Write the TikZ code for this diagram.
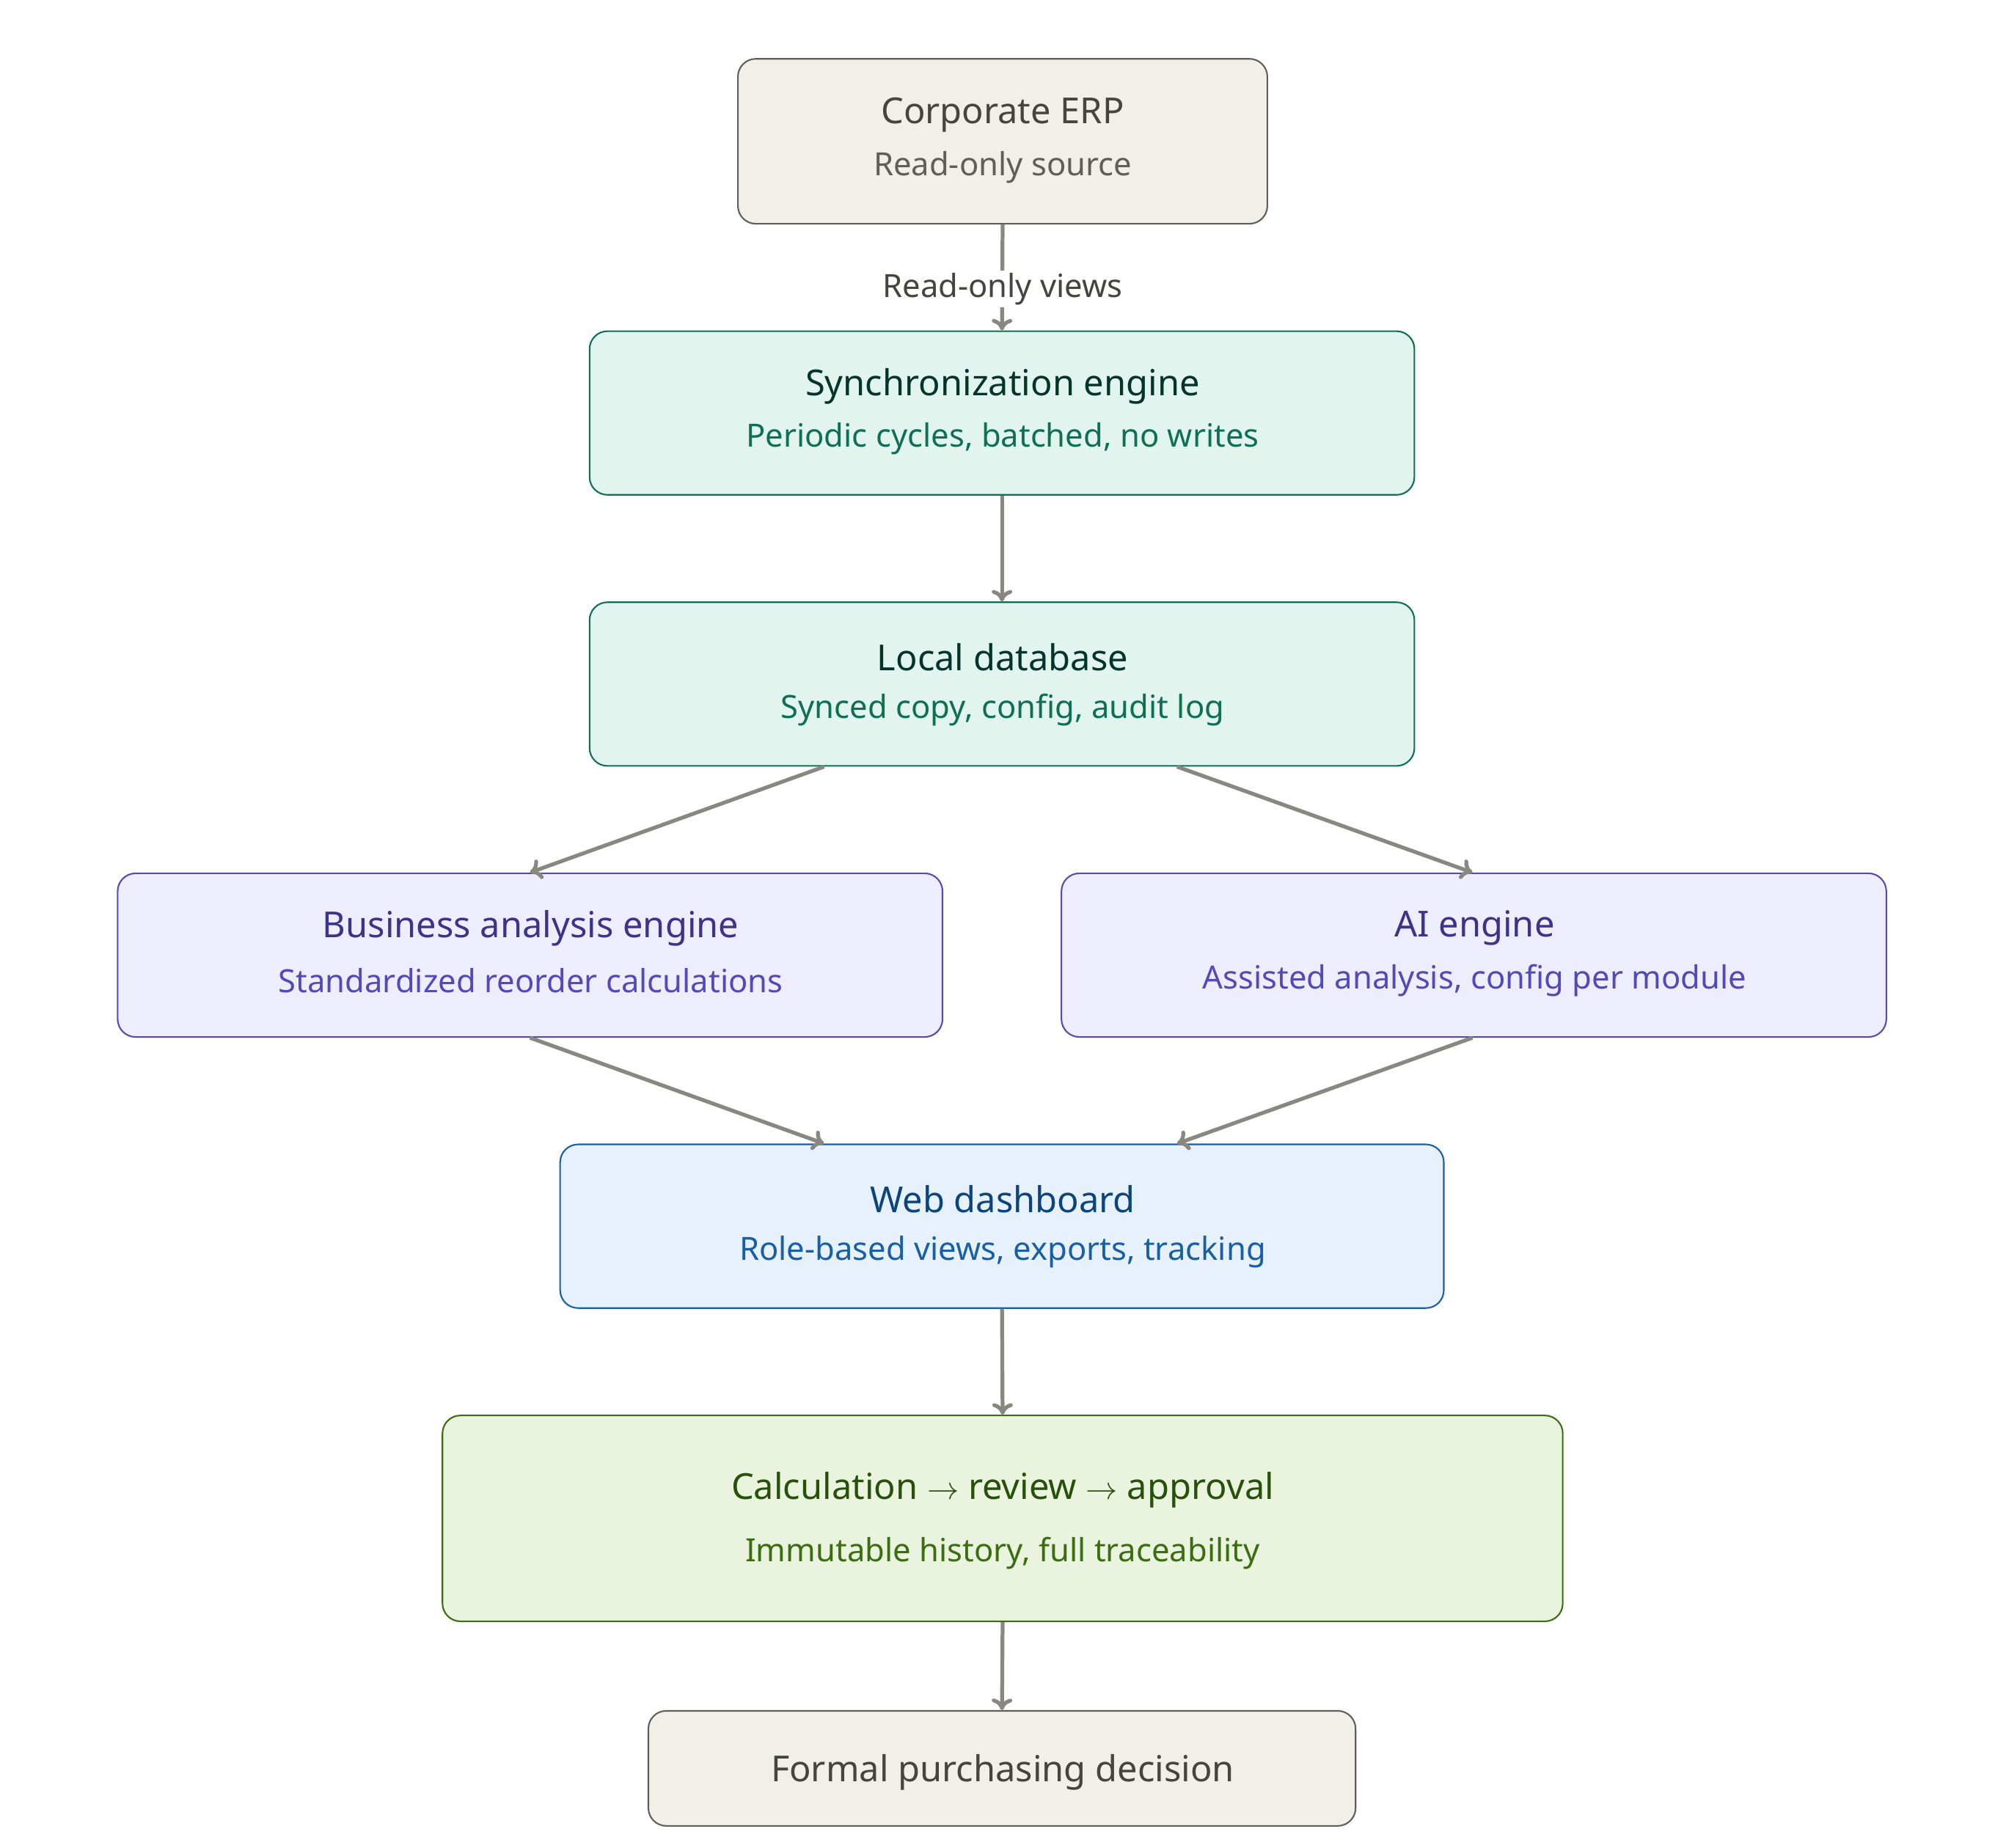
\documentclass[tikz,border=0pt]{standalone}
\usepackage{fontspec}
\setmainfont{Noto Sans}
\usetikzlibrary{calc,arrows.meta}
\definecolor{grayfill}{HTML}{F1EFE8}\definecolor{graydraw}{HTML}{5F5E5A}\definecolor{graytitle}{HTML}{444441}
\definecolor{tealfill}{HTML}{E1F5EE}\definecolor{tealdraw}{HTML}{0F6E56}\definecolor{tealtitle}{HTML}{04342C}
\definecolor{purpfill}{HTML}{EEEDFE}\definecolor{purpdraw}{HTML}{534AB7}\definecolor{purptitle}{HTML}{3C3489}
\definecolor{bluefill}{HTML}{E6F1FB}\definecolor{bluedraw}{HTML}{185FA5}\definecolor{bluetitle}{HTML}{0C447C}
\definecolor{grnfill}{HTML}{EAF3DE}\definecolor{grndraw}{HTML}{3B6D11}\definecolor{grntitle}{HTML}{27500A}
\definecolor{arrow}{HTML}{888780}
\tikzset{
 box/.style={draw, rounded corners=14pt, line width=1.2pt, inner sep=0pt},
 gbox/.style={box, fill=grayfill, draw=graydraw},
 tbox/.style={box, fill=tealfill, draw=tealdraw},
 pbox/.style={box, fill=purpfill, draw=purpdraw},
 bbox/.style={box, fill=bluefill, draw=bluedraw},
 nbox/.style={box, fill=grnfill, draw=grndraw},
 ttl/.style={font=\fontsize{28}{32}\selectfont\bfseries, inner sep=0pt},
 sub/.style={font=\fontsize{25}{30}\selectfont, inner sep=0pt},
 arr/.style={draw=arrow, line width=3pt, -{To[length=9pt,width=16pt]}},
}
\begin{document}
\begin{tikzpicture}[x=1pt,y=-1pt]
\useasboundingbox (0,0) rectangle (1560,1445);
\node[gbox, minimum width=414pt, minimum height=129pt] (erp) at (784,110.5) {};
\node[ttl, text=graytitle] (erpt) at (784,90) {Corporate ERP};
\node[sub, text=graydraw] (erps) at (784,131) {Read-only source};

\node[tbox, minimum width=645pt, minimum height=128pt] (sync) at (783.5,323) {};
\node[ttl, text=tealtitle] (synct) at (784,302) {Synchronization engine};
\node[sub, text=tealdraw] (syncs) at (784,343) {Periodic cycles, batched, no writes};

\node[tbox, minimum width=645pt, minimum height=128pt] (db) at (783.5,535) {};
\node[ttl, text=tealtitle] (dbt) at (784,514) {Local database};
\node[sub, text=tealdraw] (dbs) at (784,555) {Synced copy, config, audit log};

\node[pbox, minimum width=645pt, minimum height=128pt] (bus) at (414.5,747) {};
\node[ttl, text=purptitle] (bust) at (415,726) {Business analysis engine};
\node[sub, text=purpdraw] (buss) at (415,767) {Standardized reorder calculations};

\node[pbox, minimum width=645pt, minimum height=128pt] (ai) at (1152.5,747) {};
\node[ttl, text=purptitle] (ait) at (1153,726) {AI engine};
\node[sub, text=purpdraw] (ais) at (1153,767) {Assisted analysis, config per module};

\node[bbox, minimum width=691pt, minimum height=128pt] (web) at (783.5,959) {};
\node[ttl, text=bluetitle] (webt) at (784,938) {Web dashboard};
\node[sub, text=bluedraw] (webs) at (784,979) {Role-based views, exports, tracking};

\node[nbox, minimum width=876pt, minimum height=161pt] (calc) at (784,1187.5) {};
\node[ttl, text=grntitle] (calct) at (784,1165) {Calculation $\rightarrow$ review $\rightarrow$ approval};
\node[sub, text=grndraw] (calcs) at (784,1215) {Immutable history, full traceability};

\node[gbox, minimum width=553pt, minimum height=90pt] (fin) at (783.5,1383) {};
\node[ttl, text=graytitle] (fint) at (784,1386) {Formal purchasing decision};

\draw[arr] (erp.south) -- (sync.north);
\node[sub, text=graytitle, fill=white, inner sep=2pt] (lbl) at (784,226) {Read-only views};
\draw[arr] (sync.south) -- (db.north);
\draw[arr] ($(db.south west)+(184,0)$) -- ($(bus.north west)+(323,0)$);
\draw[arr] ($(db.south west)+(460,0)$) -- ($(ai.north west)+(322,0)$);
\draw[arr] ($(bus.south west)+(323,0)$) -- ($(web.north west)+(207,0)$);
\draw[arr] ($(ai.south west)+(322,0)$) -- ($(web.north west)+(483,0)$);
\draw[arr] (web.south) -- (calc.north);
\draw[arr] (calc.south) -- (fin.north);
\end{tikzpicture}
\end{document}
